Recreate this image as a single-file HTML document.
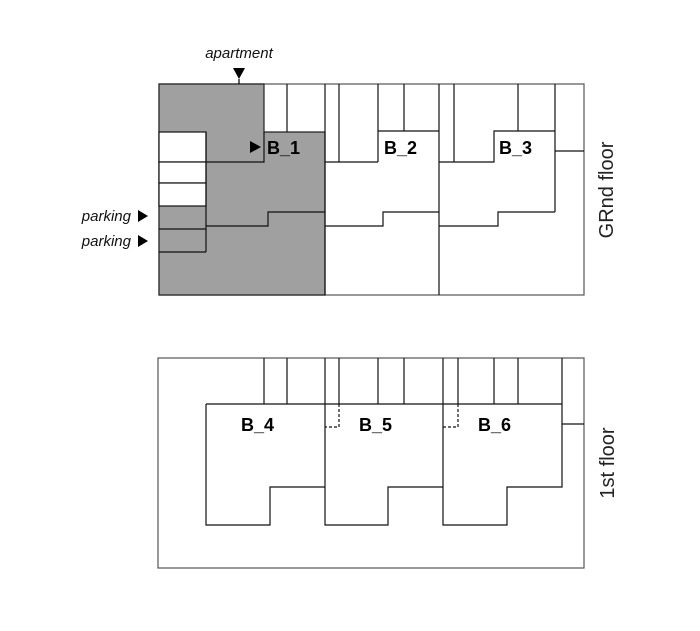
<!DOCTYPE html>
<html><head><meta charset="utf-8"><style>
html,body{margin:0;padding:0;background:#fff;}
svg{display:block;}
text{font-family:"Liberation Sans","DejaVu Sans",sans-serif;}
</style></head><body>
<svg width="700" height="631" viewBox="0 0 700 631" xmlns="http://www.w3.org/2000/svg">
<g fill="none" stroke="#111" stroke-width="1.2">
<rect x="159" y="84" width="425" height="211" fill="#fff" stroke="#555"/>
<path d="M159,84 H264 V132 H325 V295 H159 Z" fill="#a0a0a0" stroke="#222"/>
<rect x="159" y="132" width="47" height="30" fill="#fff"/>
<rect x="159" y="162" width="47" height="21" fill="#fff"/>
<rect x="159" y="183" width="47" height="23" fill="#fff"/>
<path d="M159,229 H206 M159,252 H206 M206,132 V252"/>
<path d="M206,162 H264 V132"/>
<path d="M206,226 H268 V212 H325"/>
<path d="M287,84 V132 M325,84 V295"/>
<path d="M339,84 V162 M378,84 V162 M325,162 H378 M378,131 H439 M404,84 V131 M439,84 V295"/>
<path d="M325,226 H383 V212 H439"/>
<path d="M454,84 V162 M439,162 H494 V131 H555 M518,84 V131 M555,84 V212 M555,151 H584"/>
<path d="M439,226 H498 V212 H555"/>
<rect x="158" y="358" width="426" height="210" stroke="#555"/>
<path d="M206,404 H562 M206,404 V525 H270 V487 H325 M325,358 V525 H388 V487 H443 M443,358 V525 H507 V487 H562 V358 M562,424 H584"/>
<path d="M264,358 V404 M287,358 V404 M339,358 V404 M378,358 V404 M404,358 V404 M458,358 V404 M494,358 V404 M518,358 V404"/>
<path d="M339,404 V427 H325 M458,404 V427 H443" stroke-dasharray="3,2"/>
</g>
<g fill="#000">
<polygon points="233,68 245,68 239,79"/>
<line x1="239" y1="79" x2="239" y2="84" stroke="#000" stroke-width="1.2"/>
<polygon points="250,141 250,153 261,147"/>
<polygon points="138,210 138,222 148,216"/>
<polygon points="138,235 138,247 148,241"/>
</g>
<g font-size="15" font-style="italic" fill="#111">
<text x="239" y="58" text-anchor="middle">apartment</text>
<text x="131" y="221" text-anchor="end">parking</text>
<text x="131" y="246" text-anchor="end">parking</text>
</g>
<g font-size="18" font-weight="bold" fill="#000">
<text x="267" y="154">B_1</text>
<text x="384" y="154">B_2</text>
<text x="499" y="154">B_3</text>
<text x="241" y="431">B_4</text>
<text x="359" y="431">B_5</text>
<text x="478" y="431">B_6</text>
</g>
<g font-size="20" fill="#222">
<text transform="translate(613,190) rotate(-90)" text-anchor="middle">GRnd floor</text>
<text transform="translate(614,463) rotate(-90)" text-anchor="middle">1st floor</text>
</g>
</svg>
</body></html>
